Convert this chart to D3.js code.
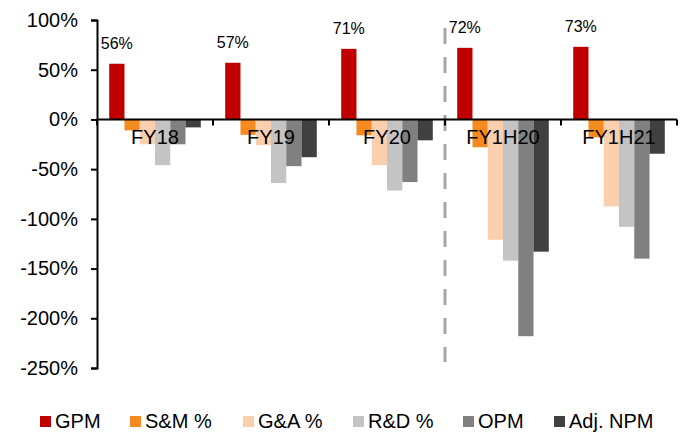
<!DOCTYPE html>
<html>
<head>
<meta charset="utf-8">
<script src="https://cdn.jsdelivr.net/npm/d3@7"></script>
<style>
  body { margin: 0; background: #fff; }
  text { font-family: "Liberation Sans", Arial, sans-serif; fill: #000; }
</style>
</head>
<body>
<div id="chart"></div>
<script>
// categories and series
var categories = ["FY18", "FY19", "FY20", "FY1H20", "FY1H21"];
var seriesNames = ["GPM", "S&M %", "G&A %", "R&D %", "OPM", "Adj. NPM"];
var seriesColors = ["#c00000", "#f58b1f", "#f9cfae", "#c4c4c4", "#808080", "#404040"];

// values in % per category, same order as seriesNames
var gpm    = [56, 57, 71, 72, 73];
var smPct  = [-11, -15.5, -16, -28, -18];
var gaPct  = [-25, -26, -46, -121, -87.5];
var rdPct  = [-46, -64, -71.5, -142, -108];
var opm    = [-25, -47, -63, -218, -140];
var adjNpm = [-8, -38, -21, -133, -34.5];
var gpmLabels = ["56%", "57%", "71%", "72%", "73%"];
var yTicks = [100, 50, 0, -50, -100, -150, -200, -250];

var allSeries = [gpm, smPct, gaPct, rdPct, opm, adjNpm];

var width = 686, height = 446;
var svg = d3.select("#chart").append("svg").attr("width", width).attr("height", height);

var x0 = d3.scaleBand().domain(categories).range([97, 677]).paddingInner(0).paddingOuter(0);
var x1 = d3.scaleBand().domain(seriesNames).range([0, x0.bandwidth()]).paddingInner(0).paddingOuter(0.8);
var y = d3.scaleLinear().domain([-250, 100]).range([368, 20]);

// bars
categories.forEach(function(cat, ci) {
    var g = svg.append("g").attr("transform", "translate(" + x0(cat) + ",0)");
    seriesNames.forEach(function(s, si) {
        var v = allSeries[si][ci];
        g.append("rect")
            .attr("x", x1(s))
            .attr("width", x1.bandwidth())
            .attr("y", y(Math.max(0, v)))
            .attr("height", Math.abs(y(v) - y(0)))
            .attr("fill", seriesColors[si]);
    });
    // GPM data label
    g.append("text")
        .attr("x", x1("GPM") + x1.bandwidth() / 2)
        .attr("y", y(gpm[ci]) - 15)
        .attr("text-anchor", "middle")
        .style("font-size", "16px")
        .text(gpmLabels[ci]);
});

// dashed separator between full years and half years
svg.append("line")
    .attr("x1", x0("FY1H20")).attr("x2", x0("FY1H20"))
    .attr("y1", 28).attr("y2", 362)
    .attr("stroke", "#a6a6a6").attr("stroke-width", 3)
    .attr("stroke-dasharray", "16,13");

// y axis
var yAxis = svg.append("g")
    .attr("transform", "translate(97,0)")
    .call(d3.axisLeft(y).tickValues(yTicks).tickSize(6).tickFormat(function(d) { return d + "%"; }));
yAxis.select(".domain").attr("stroke", "#000").attr("stroke-width", 2);
yAxis.selectAll(".tick line").attr("stroke", "#000").attr("stroke-width", 2);
yAxis.selectAll(".tick text").attr("x", -19).style("font-size", "20px").style("font-family", "Liberation Sans, Arial, sans-serif").attr("fill", "#000");

// x axis at zero
svg.append("line")
    .attr("x1", 97).attr("x2", 677)
    .attr("y1", y(0)).attr("y2", y(0))
    .attr("stroke", "#000").attr("stroke-width", 2);
var bounds = categories.map(function(c) { return x0(c); }).concat([x0.range()[1]]);
svg.selectAll(".xtick").data(bounds).enter().append("line")
    .attr("x1", function(d) { return d; }).attr("x2", function(d) { return d; })
    .attr("y1", y(0)).attr("y2", y(0) + 6)
    .attr("stroke", "#000").attr("stroke-width", 2);

// category labels
svg.selectAll(".catlab").data(categories).enter().append("text")
    .attr("x", function(d) { return x0(d) + x0.bandwidth() / 2; })
    .attr("y", 144)
    .attr("text-anchor", "middle")
    .style("font-size", "20px")
    .text(function(d) { return d; });

// legend
var legendX = [40, 130, 243, 353, 463, 554];
seriesNames.forEach(function(s, i) {
    svg.append("rect")
        .attr("x", legendX[i]).attr("y", 416)
        .attr("width", 11).attr("height", 11)
        .attr("fill", seriesColors[i]);
    svg.append("text")
        .attr("x", legendX[i] + 15).attr("y", 428)
        .style("font-size", "20px")
        .text(s);
});
</script>
</body>
</html>
